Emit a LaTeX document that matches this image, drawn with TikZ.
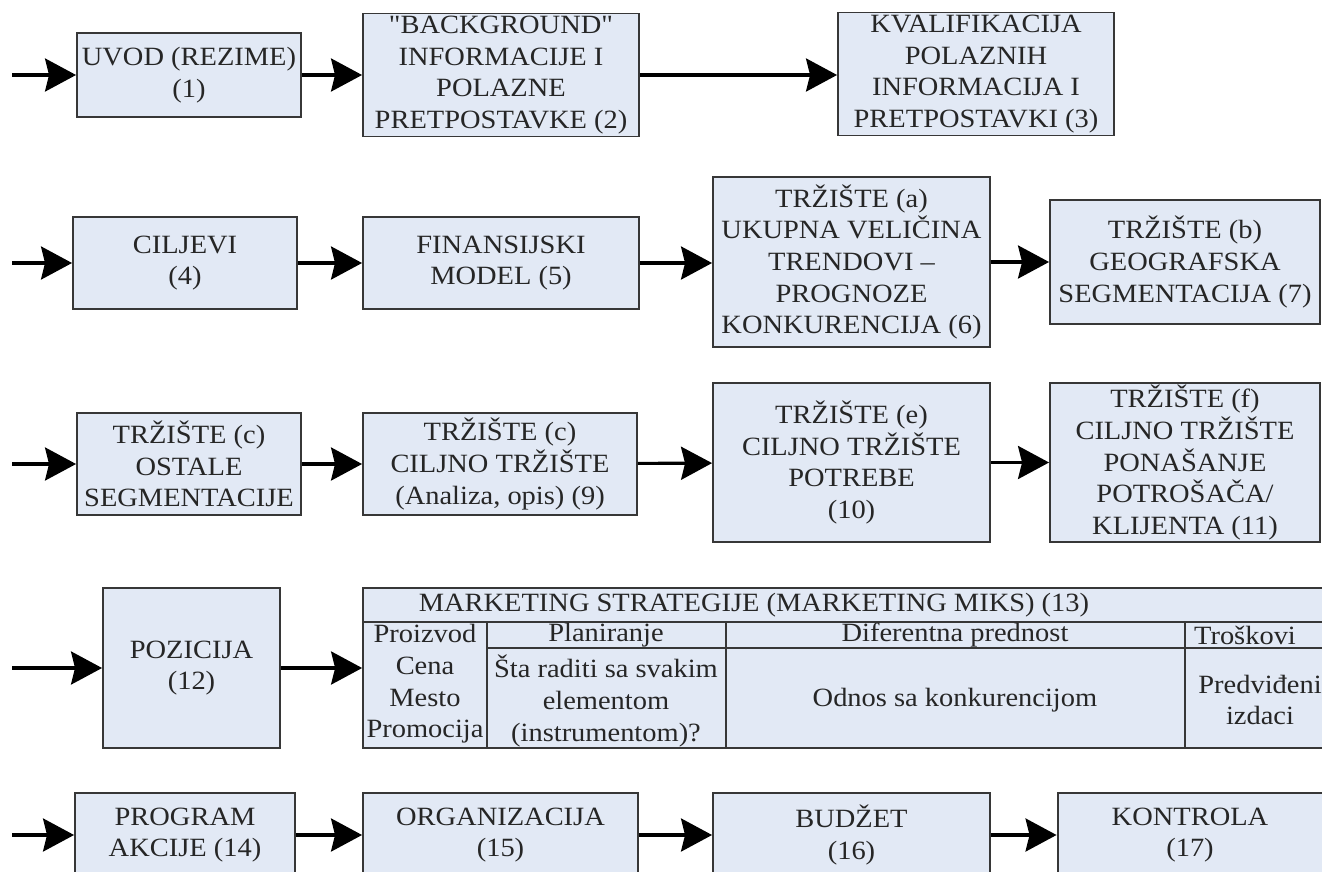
\documentclass[tikz,border=0pt]{standalone}
\usepackage{fontspec}
\setmainfont{Liberation Serif}[FakeStretch=1.08]
\newfontfamily\plainquote{Liberation Serif}[FakeStretch=1.08]
\usetikzlibrary{arrows.meta}
\definecolor{boxfill}{RGB}{226,233,245}
\definecolor{boxline}{RGB}{55,55,55}
\begin{document}
\begin{tikzpicture}[x=0.02cm, y=-0.02cm,
    box/.style={draw=boxline, fill=boxfill, line width=1.1pt, align=center, inner sep=0pt,
      text=black!85, font=\fontsize{15}{18}\selectfont},
    txt/.style={align=center, inner sep=0pt, text=black!85, font=\fontsize{15}{18}\selectfont},
    arr/.style={-{Stealth[length=0.62cm, width=0.66cm, inset=0.08cm]}, line width=1.8pt}]
 \useasboundingbox (0,0) rectangle (1322,872);
 \clip (0,0) rectangle (1322,872);

 % row 1
 \node[box, minimum width=4.48cm, minimum height=1.68cm] (A) at (189,75) {UVOD (REZIME)\\(1)};
 \node[box, minimum width=5.52cm, minimum height=2.46cm] (B) at (501,75) {{\plainquote"BACKGROUND"}\\INFORMACIJE I\\POLAZNE\\PRETPOSTAVKE (2)};
 \node[box, minimum width=5.52cm, minimum height=2.46cm] (C) at (976,74) {KVALIFIKACIJA\\POLAZNIH\\INFORMACIJA I\\PRETPOSTAVKI (3)};
 \coordinate (a) at (12,75);
 \draw[arr] (a) -- (A);
 \draw[arr] (A) -- (B);
 \draw[arr] (B.east |- A) -- (C.west |- A);

 % row 2
 \node[box, minimum width=4.48cm, minimum height=1.84cm] (D) at (185,263) {CILJEVI\\(4)};
 \node[box, minimum width=5.52cm, minimum height=1.84cm] (E) at (501,263) {FINANSIJSKI\\MODEL (5)};
 \node[box, minimum width=5.54cm, minimum height=3.4cm] (F) at (851.5,262) {TRŽIŠTE (a)\\UKUPNA VELIČINA\\TRENDOVI --\\PROGNOZE\\KONKURENCIJA (6)};
 \node[box, minimum width=5.4cm, minimum height=2.48cm] (G) at (1185,262) {TRŽIŠTE (b)\\GEOGRAFSKA\\SEGMENTACIJA (7)};
 \coordinate (d) at (12,263);
 \draw[arr] (d) -- (D);
 \draw[arr] (D) -- (E);
 \draw[arr] (E) -- (E -| F.west);
 \draw[arr] (F) -- (G);

 % row 3
 \node[box, minimum width=4.48cm, minimum height=2.04cm] (H) at (189,464) {TRŽIŠTE (c)\\OSTALE\\SEGMENTACIJE};
 \node[box, minimum width=5.48cm, minimum height=2.04cm] (I) at (500,464) {TRŽIŠTE (c)\\CILJNO TRŽIŠTE\\(Analiza, opis) (9)};
 \node[box, minimum width=5.54cm, minimum height=3.18cm] (J) at (851.5,462.5) {TRŽIŠTE (e)\\CILJNO TRŽIŠTE\\POTREBE\\(10)};
 \node[box, minimum width=5.4cm, minimum height=3.18cm] (K) at (1185,462.5) {TRŽIŠTE (f)\\CILJNO TRŽIŠTE\\PONAŠANJE\\POTROŠAČA/\\KLIJENTA (11)};
 \coordinate (h) at (12,464);
 \draw[arr] (h) -- (H);
 \draw[arr] (H) -- (I);
 \draw[arr] (I) -- (J);
 \draw[arr] (J) -- (K);

 % row 4
 \node[box, minimum width=3.54cm, minimum height=3.2cm] (L) at (191.5,668) {POZICIJA\\(12)};
 \node[box, minimum width=19.54cm, minimum height=3.2cm] (T) at (851.5,668) {};
 \draw[boxline, line width=1.1pt] (363,622) -- (1340,622);
 \draw[boxline, line width=1.1pt] (487,648) -- (1340,648);
 \draw[boxline, line width=1.1pt] (487,622) -- (487,748);
 \draw[boxline, line width=1.1pt] (726,622) -- (726,748);
 \draw[boxline, line width=1.1pt] (1185,622) -- (1185,748);
 \node[txt] (T0) at (754,605) {MARKETING STRATEGIJE (MARKETING MIKS) (13)};
 \node[txt] (T1) at (425,684) {Proizvod\\Cena\\Mesto\\Promocija};
 \node[txt] (T2) at (606,635) {Planiranje};
 \node[txt] (T3) at (606,701) {Šta raditi sa svakim\\elementom\\(instrumentom)?};
 \node[txt] (T4) at (955,635) {Diferentna prednost};
 \node[txt] (T5) at (955,700) {Odnos sa konkurencijom};
 \node[txt] (T6) at (1245,635) {Troškovi};
 \node[txt] (T7) at (1260,700) {Predviđeni\\izdaci};
 \coordinate (l) at (12,668);
 \draw[arr] (l) -- (L);
 \draw[arr] (L) -- (T);

 % row 5
 \node[box, minimum width=4.4cm, minimum height=1.68cm] (M) at (185,835) {PROGRAM\\AKCIJE (14)};
 \node[box, minimum width=5.5cm, minimum height=1.68cm] (N) at (500.5,835) {ORGANIZACIJA\\(15)};
 \node[box, minimum width=5.54cm, minimum height=1.68cm] (O) at (851.5,835) {BUDŽET\\(16)};
 \node[box, minimum width=5.3cm, minimum height=1.68cm] (P) at (1190,835) {KONTROLA\\(17)};
 \coordinate (m) at (12,835);
 \draw[arr] (m) -- (M);
 \draw[arr] (M) -- (N);
 \draw[arr] (N) -- (O);
 \draw[arr] (O) -- (P);
\end{tikzpicture}
\end{document}
